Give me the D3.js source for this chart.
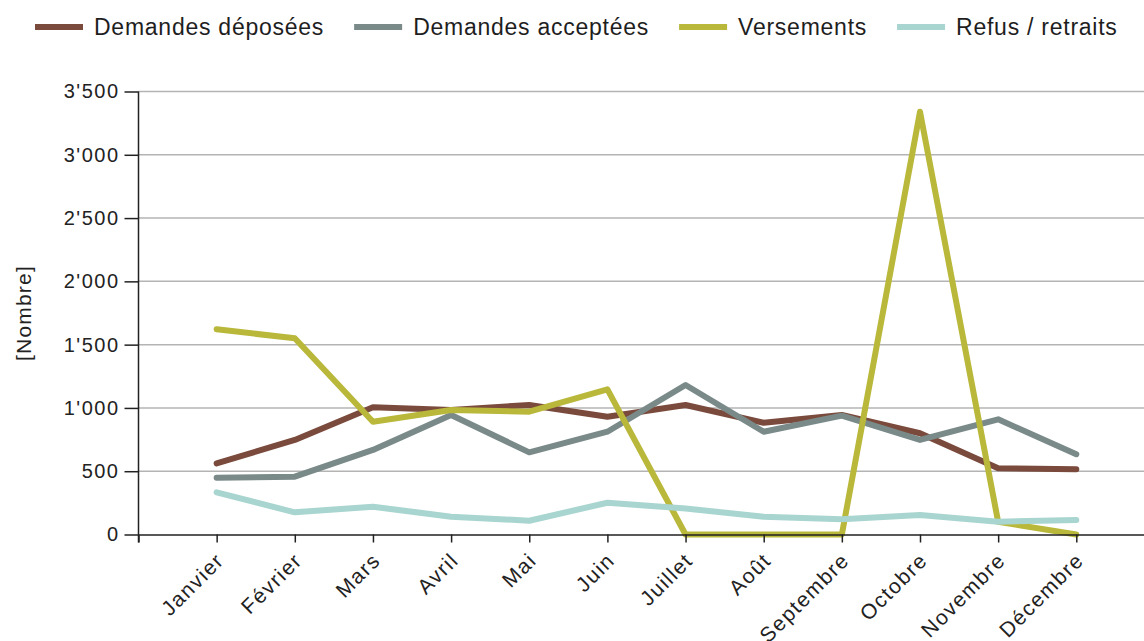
<!DOCTYPE html>
<html>
<head>
<meta charset="utf-8">
<script src="https://cdn.jsdelivr.net/npm/d3@7"></script>
<style>
  body { margin: 0; background: #fff; }
  svg { display: block; font-family: "Liberation Sans", Arial, sans-serif; }
  .grid line { stroke: #b4b4b4; stroke-width: 1.5; }
  .axis path, .axis line { stroke: #222; stroke-width: 1.5; }
  .axis text { fill: #222; font-size: 20px; letter-spacing: 1.5px; }
  .legend text { fill: #1e1e1e; font-size: 23px; letter-spacing: 0.75px; }
</style>
</head>
<body>
<script>
// Months on the x axis
const months = ["Janvier", "Février", "Mars", "Avril", "Mai", "Juin",
                "Juillet", "Août", "Septembre", "Octobre", "Novembre", "Décembre"];

// Series values
const deposees  = [562, 747, 1005, 984, 1023, 931, 1023, 883, 944, 800, 523, 515];
const acceptees = [449, 457, 668, 944, 649, 812, 1181, 812, 939, 747, 910, 634];
const versements = [1621, 1550, 891, 984, 970, 1147, 0, 0, 0, 3340, 100, 0];
const refus     = [333, 175, 220, 141, 109, 251, 205, 141, 120, 154, 101, 115];

const seriesNames = ["Demandes déposées", "Demandes acceptées", "Versements", "Refus / retraits"];
const seriesColors = ["#7a4a3c", "#7a8a89", "#b9b83a", "#a8d5cf"];

// y axis ticks
const yTicks = [0, 500, 1000, 1500, 2000, 2500, 3000, 3500];

const w = 1144;
const h = 641;
const plotLeft = 138.5;
const plotTop = 91.5;
const plotBottom = 534.5;

const series = [deposees, acceptees, versements, refus];

const svg = d3.select("body").append("svg").attr("width", w).attr("height", h);

const xScale = d3.scalePoint().domain(months).range([plotLeft, plotLeft + 13 * 78.15]).padding(1);
const yScale = d3.scaleLinear().domain([0, 3500]).range([plotBottom, plotTop]);

const locale = d3.formatLocale({decimal: ".", thousands: "'", grouping: [3], currency: ["", ""]});
const fmt = locale.format(",d");

//Horizontal grid lines
svg.append("g")
  .attr("class", "grid")
  .selectAll("line")
  .data(yTicks.slice(1))
  .enter()
  .append("line")
  .attr("x1", plotLeft)
  .attr("x2", w)
  .attr("y1", (d) => yScale(d))
  .attr("y2", (d) => yScale(d));

//Lines, in legend order so the later ones sit on top
const line = d3.line()
  .x((d, i) => xScale(months[i]))
  .y((d) => yScale(d));

svg.append("g")
  .selectAll("path")
  .data(series)
  .enter()
  .append("path")
  .attr("d", (d) => line(d))
  .attr("fill", "none")
  .attr("stroke", (d, i) => seriesColors[i])
  .attr("stroke-width", 6)
  .attr("stroke-linejoin", "round")
  .attr("stroke-linecap", "round");

//Axes
const xAxis = d3.axisBottom(xScale).tickSize(8).tickSizeOuter(8);
const gx = svg.append("g")
  .attr("class", "axis")
  .attr("transform", "translate(0," + plotBottom + ")")
  .call(xAxis);

gx.selectAll(".tick text")
  .attr("x", 0)
  .attr("y", 0)
  .attr("dy", "0.35em")
  .attr("text-anchor", "end")
  .attr("transform", "translate(3,22) rotate(-45)")
  .style("font-size", "21px");

const yAxis = d3.axisLeft(yScale).tickValues(yTicks).tickFormat(fmt).tickSize(14).tickPadding(5);
svg.append("g")
  .attr("class", "axis")
  .attr("transform", "translate(" + plotLeft + ",0)")
  .call(yAxis)
  .select(".domain")
  .attr("d", "M0," + plotTop + "V" + (plotBottom + 8));

svg.append("text")
  .attr("transform", "translate(31," + ((plotTop + plotBottom) / 2) + ") rotate(-90)")
  .attr("text-anchor", "middle")
  .attr("fill", "#222")
  .style("font-size", "21px")
  .style("letter-spacing", "1.2px")
  .text("[Nombre]");

//Legend
const legend = svg.append("g").attr("class", "legend");
let lx = 35;
seriesNames.forEach((name, i) => {
  legend.append("line")
    .attr("x1", lx).attr("x2", lx + 48)
    .attr("y1", 27).attr("y2", 27)
    .attr("stroke", seriesColors[i])
    .attr("stroke-width", 6);
  const t = legend.append("text")
    .attr("x", lx + 59)
    .attr("y", 35)
    .text(name);
  lx += 59 + t.node().getComputedTextLength() + 30;
});
</script>
</body>
</html>
